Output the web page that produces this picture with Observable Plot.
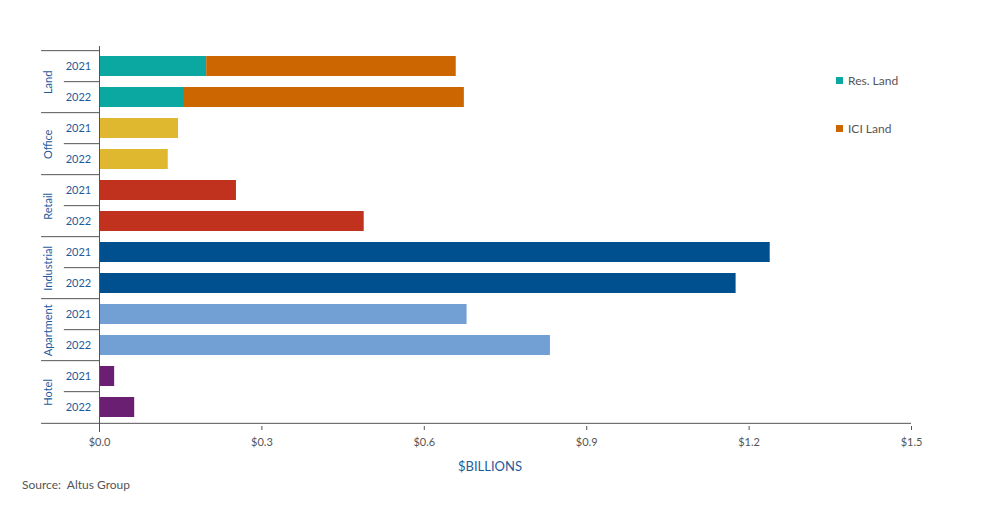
<!DOCTYPE html>
<html>
<head>
<meta charset="utf-8">
<script src="https://cdn.jsdelivr.net/npm/d3@7"></script>
<script src="https://cdn.jsdelivr.net/npm/@observablehq/plot@0.6"></script>
<style>
  body { margin: 0; background: #fff; font-family: Lato, "Open Sans", sans-serif; }
  #wrap { position: relative; width: 984px; height: 512px; }
  #chart { position: absolute; left: 0; top: 0; }
  .leg { position: absolute; left: 836px; font-size: 12px; color: #555; display: flex; align-items: center; }
  .leg span.sw { display: inline-block; width: 7px; height: 7px; margin-right: 5px; }
  #xlabel { position: absolute; left: 458px; top: 458px; font-size: 13px; color: #1f5a9a; }
  #source { position: absolute; left: 22px; top: 477px; font-size: 12px; color: #555; }
</style>
</head>
<body>
<div id="wrap">
  <div id="chart"></div>
  <div class="leg" style="top:73px"><span class="sw" style="background:#0aa8a0"></span>Res. Land</div>
  <div class="leg" style="top:121px"><span class="sw" style="background:#cc6600"></span>ICI Land</div>
  <div id="xlabel">$BILLIONS</div>
  <div id="source">Source:&nbsp; Altus Group</div>
</div>
<script>
const categories = ["Land", "Office", "Retail", "Industrial", "Apartment", "Hotel"];
const years = ["2021", "2022"];
const resLand = [0.198, 0.157];
const iciLand = [0.461, 0.517];
const office = [0.146, 0.127];
const retail = [0.253, 0.489];
const industrial = [1.239, 1.176];
const apartment = [0.679, 0.833];
const hotel = [0.028, 0.065];
const xTicks = [0, 0.3, 0.6, 0.9, 1.2, 1.5];

const seriesNames = ["Res. Land", "ICI Land", "Office", "Retail", "Industrial", "Apartment", "Hotel"];
const seriesColors = ["#0aa8a0", "#cc6600", "#e0b830", "#c0321e", "#00508f", "#729fd4", "#6a1f72"];

const key = (c, y) => c + " " + y;
const rows = [];
years.forEach((y, i) => {
  rows.push({cat: "Land", year: y, key: key("Land", y), series: "Res. Land", value: resLand[i]});
  rows.push({cat: "Land", year: y, key: key("Land", y), series: "ICI Land", value: iciLand[i]});
  rows.push({cat: "Office", year: y, key: key("Office", y), series: "Office", value: office[i]});
  rows.push({cat: "Retail", year: y, key: key("Retail", y), series: "Retail", value: retail[i]});
  rows.push({cat: "Industrial", year: y, key: key("Industrial", y), series: "Industrial", value: industrial[i]});
  rows.push({cat: "Apartment", year: y, key: key("Apartment", y), series: "Apartment", value: apartment[i]});
  rows.push({cat: "Hotel", year: y, key: key("Hotel", y), series: "Hotel", value: hotel[i]});
});
const keys = categories.flatMap(c => years.map(y => key(c, y)));
const yearRows = categories.flatMap(c => years.map(y => ({cat: c, year: y, key: key(c, y)})));
const firstRows = yearRows.filter(d => d.year === years[0]);
const secondRows = yearRows.filter(d => d.year === years[1]);

const marginTop = 46, marginBottom = 24, height = 450;
const step = (height - marginTop - marginBottom) / keys.length;
const xMin = -0.107, xInner = -0.065;
const blue = "#1f5a9a", grey = "#555";

const plot = Plot.plot({
  width: 984,
  height,
  marginTop,
  marginBottom,
  marginLeft: 99,
  marginRight: 73,
  style: {fontFamily: "Lato, 'Open Sans', sans-serif"},
  x: {domain: [0, 1.5]},
  y: {domain: keys, paddingInner: 0.36, paddingOuter: 0.18, axis: null},
  color: {domain: seriesNames, range: seriesColors},
  marks: [
    Plot.barX(rows, {y: "key", x: "value", fill: "series", order: seriesNames}),
    Plot.ruleY(firstRows, {y: "key", dy: -step / 2, x1: xMin, x2: 0, stroke: grey, strokeWidth: 1}),
    Plot.ruleY(secondRows, {y: "key", dy: -step / 2, x1: xInner, x2: 0, stroke: grey, strokeWidth: 1}),
    Plot.ruleY([keys[keys.length - 1]], {y: d => d, dy: step / 2, x1: xMin, x2: 1.5, stroke: grey, strokeWidth: 1}),
    Plot.ruleX([0], {stroke: grey, strokeWidth: 1, insetBottom: -6}),
    Plot.text(yearRows, {y: "key", text: "year", frameAnchor: "left", textAnchor: "middle", dx: -21, fill: blue, fontSize: 11}),
    Plot.text(firstRows, {y: "key", text: "cat", frameAnchor: "left", textAnchor: "middle", dx: -51, dy: step / 2, rotate: -90, fill: blue, fontSize: 11}),
    Plot.axisX({ticks: xTicks, tickFormat: d => "$" + d.toFixed(1), tickSize: 4, tickPadding: 8, fontSize: 11, color: grey, stroke: grey, label: null})
  ]
});
document.getElementById("chart").appendChild(plot);
</script>
</body>
</html>
